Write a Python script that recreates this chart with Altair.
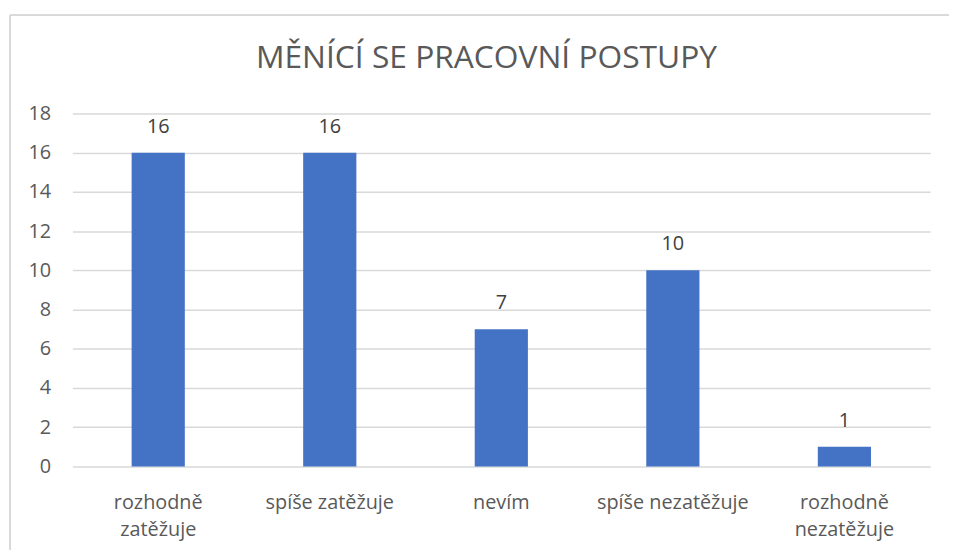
import altair as alt
import pandas as pd

categories = ["rozhodně zatěžuje", "spíše zatěžuje", "nevím", "spíše nezatěžuje", "rozhodně nezatěžuje"]
values = [16, 16, 7, 10, 1]
y_ticks = [0, 2, 4, 6, 8, 10, 12, 14, 16, 18]
title_text = "MĚNÍCÍ SE PRACOVNÍ POSTUPY"

df = pd.DataFrame({"kategorie": categories, "pocet": values})

FONT = "Open Sans"
W, H = 865, 356

x_enc = alt.X(
    "kategorie:N",
    sort=categories,
    scale=alt.Scale(paddingInner=0.69, paddingOuter=0.345),
    axis=alt.Axis(
        title=None,
        labelAngle=0,
        ticks=False,
        domain=False,
        labelPadding=26,
        labelFontSize=20,
        labelFont=FONT,
        labelColor="#595959",
        labelLineHeight=28,
        labelExpr="indexof(datum.label, 'rozhodně') == 0 ? split(datum.label, ' ') : datum.label",
    ),
)
y_enc = alt.Y(
    "pocet:Q",
    scale=alt.Scale(domain=[0, 18]),
    axis=alt.Axis(
        title=None,
        values=y_ticks,
        labelOverlap=False,
        ticks=False,
        domain=False,
        grid=True,
        gridColor="#d9d9d9",
        gridWidth=1.5,
        labelPadding=22,
        labelFontSize=20,
        labelFont=FONT,
        labelColor="#595959",
    ),
)

bars = alt.Chart(df).mark_bar(color="#4472C4").encode(x=x_enc, y=y_enc)

labels = alt.Chart(df).mark_text(
    font=FONT, fontSize=20, color="#404040", baseline="middle", dy=-26
).encode(x=x_enc, y=y_enc, text="pocet:Q")

border_top = alt.Chart(df).mark_rule(color="#d9d9d9", strokeWidth=1.5).encode(
    x=alt.value(-63), x2=alt.value(884), y=alt.value(-99)
)
border_left = alt.Chart(df).mark_rule(color="#d9d9d9", strokeWidth=1.5).encode(
    x=alt.value(-63), y=alt.value(-99), y2=alt.value(470)
)

chart = (
    alt.layer(border_top, border_left, bars, labels)
    .properties(
        width=W,
        height=H,
        title=alt.TitleParams(
            title_text,
            font=FONT,
            fontSize=32,
            fontWeight="normal",
            color="#595959",
            anchor="middle",
            baseline="alphabetic",
            dx=-15,
            dy=86,
            offset=0,
        ),
        autosize=alt.AutoSizeParams(type="none"),
        padding={"left": 65, "top": 104, "right": 20, "bottom": 82},
    )
    .configure_view(stroke=None)
)

chart.save("out.html", embed_options={"renderer": "svg", "actions": False})
